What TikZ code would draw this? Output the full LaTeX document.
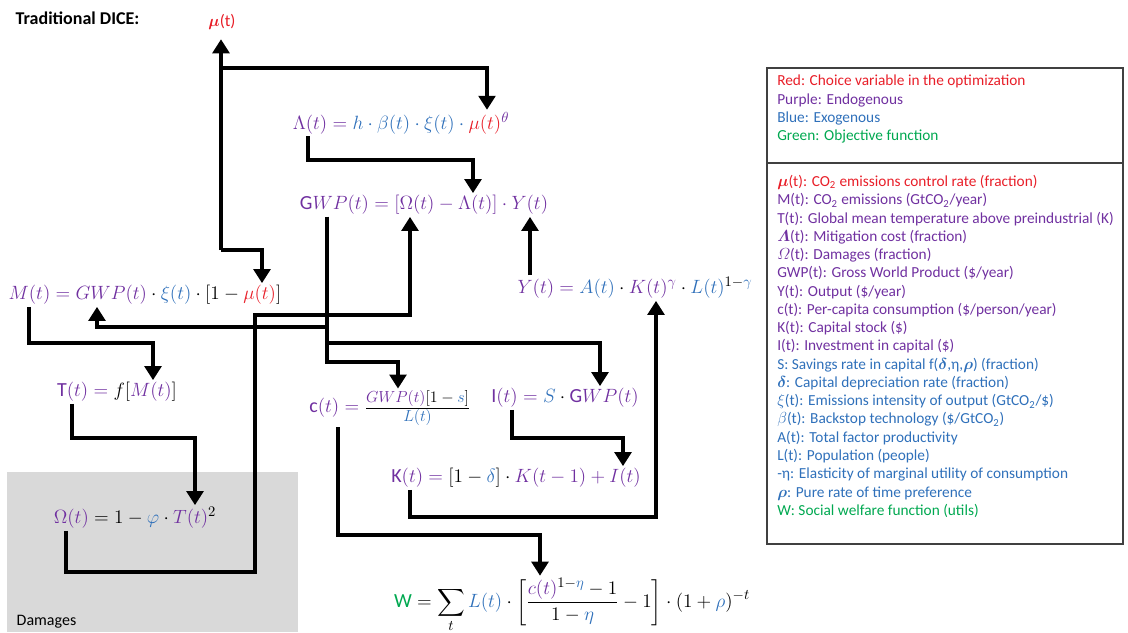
\documentclass[tikz,border=0pt]{standalone}
\usepackage{amsmath,bm}
\usepackage[no-math]{fontspec}
\setmainfont{Carlito}
\definecolor{chred}{RGB}{232,30,40}
\definecolor{chpurple}{RGB}{112,48,160}
\definecolor{chblue}{RGB}{47,112,186}
\definecolor{chgreen}{RGB}{0,168,80}
\definecolor{dmggray}{RGB}{217,217,217}
\usetikzlibrary{arrows.meta}
\newcommand{\cred}[1]{{\color{chred}#1}}
\newcommand{\cpur}[1]{{\color{chpurple}#1}}
\newcommand{\cblu}[1]{{\color{chblue}#1}}
\newcommand{\cgrn}[1]{{\color{chgreen}#1}}
\newcommand{\peq}{\mathrel{\cpur{=}}}
\newcommand{\bdot}{\mathbin{\cblu{\cdot}}}
\newcommand{\fracpart}[1]{\mbox{\fontsize{13}{15}\selectfont$#1$}}
\tikzset{
  eq/.style={inner sep=1.5pt,font=\fontsize{15}{18}\selectfont},
  keytxt/.style={anchor=north west,inner sep=0pt,align=left,
                 font=\fontsize{11.5}{13.7}\selectfont},
  keyline/.style={draw=black!75,line width=0.9pt},
  arr/.style={-{Triangle[length=10.5pt,width=12.5pt]},line width=3.5pt},
  lbl/.style={anchor=west,font=\fontsize{12}{14}\selectfont},
}
\begin{document}
\begin{tikzpicture}[x=0.75pt,y=-0.75pt]
    \useasboundingbox (0,0) rectangle (1128,632);
    \fill[dmggray] (7,472) rectangle (298,632);
    \node[lbl] (dmglbl) at (12,622) {Damages};
    \node[lbl,font=\fontsize{13.5}{15}\selectfont\bfseries] (title) at (11,18) {Traditional DICE:};
    \node[text=chred,inner sep=7pt,font=\fontsize{12.5}{14}\selectfont] (mu) at (222,22) {$\bm{\mu}$(t)};
    \node[eq] (lam) at (401,123)
      {$\cpur{\Lambda(t)} \peq \cblu{h\cdot\beta(t)\cdot\xi(t)}\bdot\cred{\mu(t)}^{\cpur{\theta}}$};
    \node[eq] (gwp) at (424,205)
      {$\cpur{\text{G}WP(t)} \peq \cpur{[\Omega(t) - \Lambda(t)]\cdot Y(t)}$};
    \node[eq] (m) at (145,295)
      {$\cpur{M(t)} \peq \cpur{GWP(t)}\cdot\cblu{\xi(t)}\cdot[1-\cred{\mu(t)}]$};
    \node[eq] (y) at (635,288)
      {$\cpur{Y(t)} \peq \cblu{A(t)}\cdot\cpur{K(t)^{\gamma}}\cdot\cblu{L(t)}^{1-\cblu{\gamma}}$};
    \node[eq] (t) at (117,392) {$\cpur{\text{T}(t)} \peq f[\cpur{M(t)}]$};
    \node[eq] (c) at (390,408)
      {$\cpur{\text{c}(t)} \peq \frac{\fracpart{\cpur{GWP(t)}[1-\cblu{s}]}}{\fracpart{\cblu{L(t)}}}$};
    \node[eq] (i) at (565,398) {$\cpur{\text{I}(t)} \peq \cblu{S}\cdot\cpur{\text{G}WP(t)}$};
    \node[eq] (k) at (516,478)
      {$\cpur{\text{K}(t)} \peq [1-\cblu{\delta}]\cdot\cpur{K(t-1)+I(t)}$};
    \node[eq] (om) at (135,518) {$\cpur{\Omega(t)} = 1-\cblu{\varphi}\cdot\cpur{T(t)}^2$};
    \node[eq] (w) at (572,605)
      {$\displaystyle\cgrn{\text{W}} = \sum_t \cblu{L(t)}\cdot\left[\frac{\cpur{c(t)}^{1-\cblu{\eta}}-1}{1-\cblu{\eta}}-1\right]\cdot(1+\cblu{\rho})^{-t}$};

    \draw[keyline] (767,68) rectangle (1123,163);
    \draw[keyline] (767,163) rectangle (1123,544);
    \node[keytxt] (colkey) at (777,75)
      {\cred{Red: Choice variable in the optimization}\\
       \cpur{Purple: Endogenous}\\
       \cblu{Blue: Exogenous}\\
       \cgrn{Green: Objective function}};
    \node[keytxt] (varkey) at (777,175)
      {\cred{$\bm{\mu}$(t): CO\textsubscript{2} emissions control rate (fraction)}\\
       \cpur{M(t): CO\textsubscript{2} emissions (GtCO\textsubscript{2}/year)}\\
       \cpur{T(t): Global mean temperature above preindustrial (K)}\\
       \cpur{$\bm{\varLambda}$(t): Mitigation cost (fraction)}\\
       \cpur{$\varOmega$(t): Damages (fraction)}\\
       \cpur{GWP(t): Gross World Product (\$/year)}\\
       \cpur{Y(t): Output (\$/year)}\\
       \cpur{c(t): Per-capita consumption (\$/person/year)}\\
       \cpur{K(t): Capital stock (\$)}\\
       \cpur{I(t): Investment in capital (\$)}\\
       \cblu{S: Savings rate in capital f($\bm{\delta}$,η,$\bm{\rho}$) (fraction)}\\
       \cblu{$\bm{\delta}$: Capital depreciation rate (fraction)}\\
       \cblu{$\xi$(t): Emissions intensity of output (GtCO\textsubscript{2}/\$)}\\
       \cblu{$\beta$(t): Backstop technology (\$/GtCO\textsubscript{2})}\\
       \cblu{A(t): Total factor productivity}\\
       \cblu{L(t): Population (people)}\\
       \cblu{-η: Elasticity of marginal utility of consumption}\\
       \cblu{$\bm{\rho}$: Pure rate of time preference}\\
       \cgrn{W: Social welfare function (utils)}};

    \coordinate (mj) at (221,68);   \coordinate (lu) at (487,68);
    \coordinate (mb) at (221,250);  \coordinate (mm) at (262,250);
    \draw[arr] (mb) -- (mu.south -| mb);
    \draw[arr] (mj) -| (lam.north -| lu);
    \draw[arr] (mb) -| (m.north -| mm);
    \coordinate (lb) at (308,160);  \coordinate (lg) at (473,160);
    \draw[arr] (lam.south -| lb) -- (lb) -- (lg) -- (gwp.north -| lg);
    \coordinate (ob1) at (66,572);  \coordinate (ob2) at (255,572);
    \coordinate (ob3) at (255,315); \coordinate (ob4) at (410,315);
    \draw[arr] (om.south -| ob1) -- (ob1) -- (ob2) -- (ob3) -- (ob4) -- (gwp.south -| ob4);
    \coordinate (yg) at (530,250);
    \draw[arr] (y.north -| yg) -- (gwp.south -| yg);
    \coordinate (kb1) at (410,517); \coordinate (kb2) at (656,517);
    \draw[arr] (k.south -| kb1) -- (kb1) -- (kb2) -- (y.south -| kb2);
    \coordinate (gm1) at (327,327); \coordinate (gm2) at (97,327);
    \coordinate (gi1) at (327,343); \coordinate (gi2) at (600,343);
    \coordinate (gc1) at (327,362); \coordinate (gc2) at (398,362);
    \draw[arr] (gwp.south -| gm1) -- (gm1) -- (gm2) -- (m.south -| gm2);
    \draw[arr] (gwp.south -| gi1) -- (gi1) -- (gi2) -- (i.north -| gi2);
    \draw[arr] (gwp.south -| gc1) -- (gc1) -- (gc2) -- (c.north -| gc2);
    \coordinate (mt1) at (29,343);  \coordinate (mt2) at (153,343);
    \draw[arr] (m.south -| mt1) -- (mt1) -- (mt2) -- (t.north -| mt2);
    \coordinate (to1) at (72,438);  \coordinate (to2) at (195,438);
    \draw[arr] (t.south -| to1) -- (to1) -- (to2) -- (om.north -| to2);
    \coordinate (ik1) at (512,438); \coordinate (ik2) at (623,438);
    \draw[arr] (i.south -| ik1) -- (ik1) -- (ik2) -- (k.north -| ik2);
    \coordinate (cw1) at (338,535); \coordinate (cw2) at (540,535);
    \draw[arr] (c.south -| cw1) -- (cw1) -- (cw2) -- (w.north -| cw2);
\end{tikzpicture}
\end{document}
